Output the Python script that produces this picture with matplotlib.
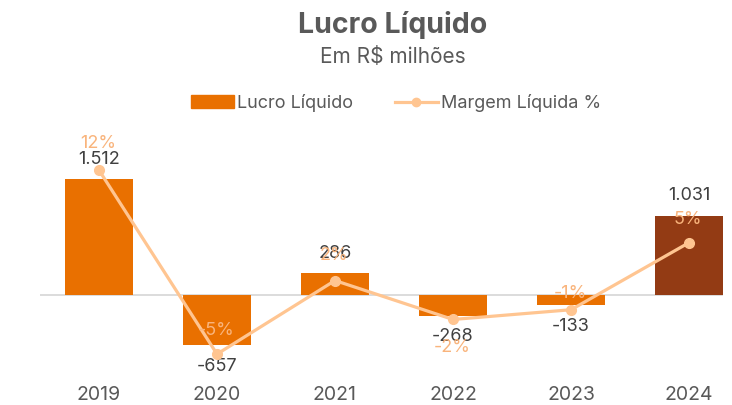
import matplotlib
matplotlib.use("Agg")
import matplotlib.pyplot as plt
from matplotlib.patches import Patch
from matplotlib.lines import Line2D

anos = ['2019', '2020', '2021', '2022', '2023', '2024']
lucro = [1512, -657, 286, -268, -133, 1031]
lucro_txt = ['1.512', '-657', '286', '-268', '-133', '1.031']
margem = [12.0, -5.0, 1.8, -1.8, -0.9, 5.3]
margem_txt = ['12%', '-5%', '2%', '-2%', '-1%', '5%']

plt.rcParams['font.family'] = ['Inter', 'DejaVu Sans']

W, H = 732, 405
fig = plt.figure(figsize=(W / 100, H / 100), dpi=100)

# axes box in pixels: x 40..732, y 140..370
left, right, top, bottom = 40, 732, 140, 370
ax = fig.add_axes([left / W, 1 - bottom / H, (right - left) / W, (bottom - top) / H])
ax2 = ax.twinx()

laranja = '#E97000'
marrom = '#933B14'
pessego = '#FFC591'
cinza = '#404040'

x = list(range(len(anos)))
cores = [laranja] * 5 + [marrom]
ax.bar(x, lucro, width=0.58, color=cores, zorder=2)
ax.axhline(0, color='#D9D9D9', lw=1.3, zorder=1, xmax=0.985)

ax.set_xlim(-0.5, -0.5 + (right - left) / 118)
ax.set_ylim(-978, 2021)
ax2.set_ylim(-6.47, 14.79)

ax2.plot(x, margem, color=pessego, lw=2.3, marker='o', ms=7, zorder=3)

for a in (ax, ax2):
    for s in a.spines.values():
        s.set_visible(False)
    a.set_yticks([])
ax.set_xticks([])

for i, v in enumerate(lucro):
    off = 20 if v > 0 else -21
    ax.annotate(lucro_txt[i], (i, v), xytext=(0, off), textcoords='offset pixels',
                ha='center', va='center', fontsize=13, color=cinza, zorder=5)

# deslocamento dos rótulos de % (pixels)
off_pct = [27, 24, 25, -28, 16, 23]
for i, v in enumerate(margem):
    ax2.annotate(margem_txt[i], (i, v), xytext=(-1, off_pct[i]), textcoords='offset pixels',
                 ha='center', va='center', fontsize=13, color='#F9B47C', zorder=4)

for i, a in enumerate(anos):
    fig.text((left + (i + 0.5) * 118) / W, 1 - 395 / H, a, ha='center', va='center',
             fontsize=14, color='#595959')

fig.text(393 / W, 1 - 25 / H, 'Lucro Líquido', ha='center', va='center',
         fontsize=20.5, fontweight='bold', color='#595959')
fig.text(393 / W, 1 - 57 / H, 'Em R$ milhões', ha='center', va='center',
         fontsize=15, color='#595959')

handles = [Patch(color=laranja), Line2D([], [], color=pessego, lw=2.3, marker='o', ms=6)]
fig.legend(handles, ['Lucro Líquido', 'Margem Líquida %'], loc='center',
           bbox_to_anchor=(396 / W, 1 - 103 / H), ncol=2, frameon=False,
           fontsize=13, handlelength=2.4, handletextpad=0.15, columnspacing=2.3,
           labelcolor='#595959')

fig.savefig('out.png', dpi=100, facecolor='white')
